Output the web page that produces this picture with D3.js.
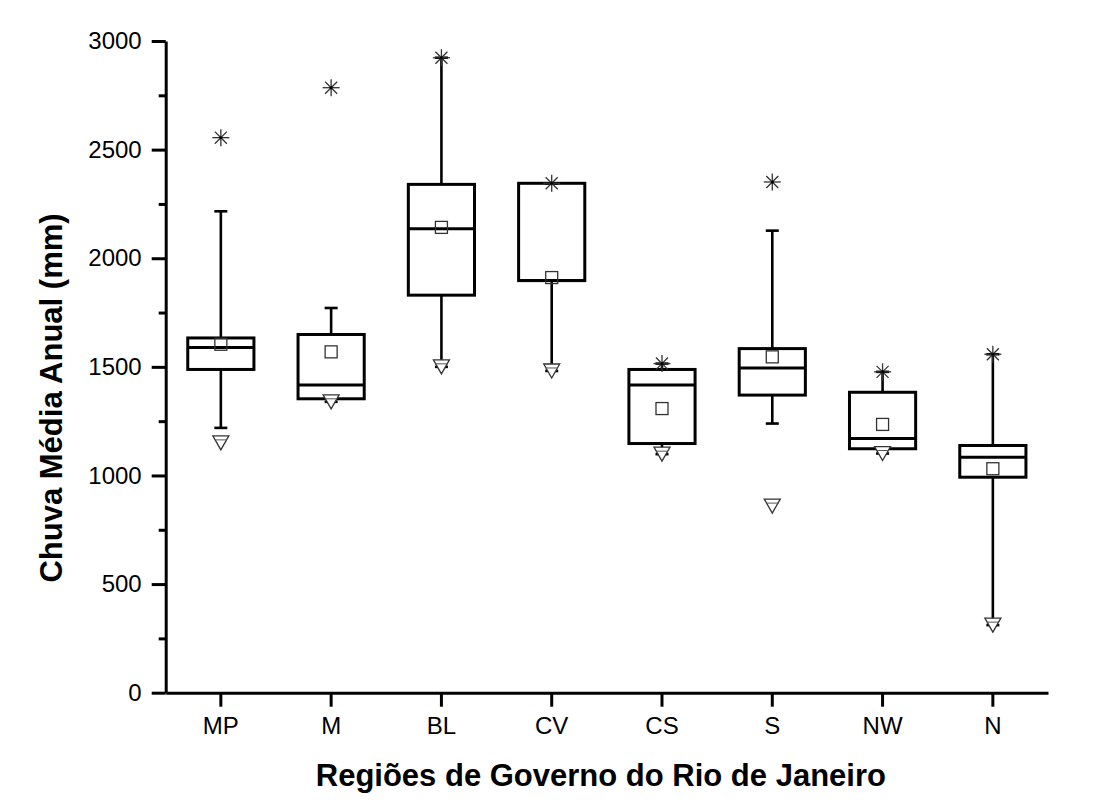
<!DOCTYPE html>
<html>
<head>
<meta charset="utf-8">
<script src="https://cdn.jsdelivr.net/npm/d3@7"></script>
<style>
	body { margin: 0; background: #fff; }
	svg { display: block; font-family: "Liberation Sans", Arial, sans-serif; }
	.axis path, .axis line { stroke: #000; stroke-width: 3; }
	.axis text { font-size: 24px; fill: #000; }
</style>
</head>
<body>
<svg id="chart" width="1096" height="809"></svg>
<script>
// data
var regions = ["MP", "M", "BL", "CV", "CS", "S", "NW", "N"];
var q1 =          [1488, 1353, 1830, 1897, 1147, 1370, 1123,  992];
var median =      [1589, 1416, 2136, 1897, 1416, 1495, 1170, 1084];
var q3 =          [1633, 1649, 2340, 2345, 1488, 1584, 1383, 1138];
var mean =        [1604, 1569, 2142, 1911, 1308, 1546, 1235, 1031];
var whiskerLow =  [1219, 1339, 1500, 1481, 1098, 1239, 1101,  311];
var whiskerHigh = [2216, 1771, 2923, 2345, 1515, 2127, 1477, 1558];
var minVal =      [1150, 1339, 1500, 1481, 1098,  859, 1101,  311];
var maxVal =      [2555, 2785, 2923, 2345, 1515, 2351, 1477, 1558];
var yTicks = [0, 500, 1000, 1500, 2000, 2500, 3000];
var yMinorTicks = [250, 750, 1250, 1750, 2250, 2750];

var margin = {top: 41, left: 165.7},
	width = 882.3,
	height = 651.7;

var svg = d3.select("#chart");
var g = svg.append("g").attr("transform", "translate(" + margin.left + "," + margin.top + ")");

var x = d3.scaleBand().domain(regions).range([0, width]);
var y = d3.scaleLinear().domain([0, 3000]).range([height, 0]);

var boxW = x.bandwidth() * 0.6,
	capW = 13;

// minor ticks first so the main axis line sits on top
g.append("g").attr("class", "axis")
	.call(d3.axisLeft(y).tickValues(yMinorTicks).tickSize(7).tickFormat(""))
	.select(".domain").remove();

g.append("g").attr("class", "axis")
	.call(d3.axisLeft(y).tickValues(yTicks).tickFormat(d3.format("d"))
		.tickSizeInner(14).tickSizeOuter(0).tickPadding(10));

g.append("g").attr("class", "axis")
	.attr("transform", "translate(0," + height + ")")
	.call(d3.axisBottom(x).tickSizeInner(14).tickSizeOuter(0).tickPadding(10));

var data = regions.map(function(r, i) {
	return {r: r, q1: q1[i], med: median[i], q3: q3[i], mean: mean[i],
		lo: whiskerLow[i], hi: whiskerHigh[i], min: minVal[i], max: maxVal[i]};
});

var box = g.selectAll("g.box").data(data).enter()
	.append("g").attr("class", "box")
	.attr("transform", function(d) { return "translate(" + (x(d.r) + x.bandwidth() / 2) + ",0)"; });

// whiskers
box.append("line")
	.attr("x1", 0).attr("x2", 0)
	.attr("y1", function(d) { return y(d.q3); })
	.attr("y2", function(d) { return y(d.hi); })
	.attr("stroke", "#000").attr("stroke-width", 2.6);
box.append("line")
	.attr("x1", 0).attr("x2", 0)
	.attr("y1", function(d) { return y(d.q1); })
	.attr("y2", function(d) { return y(d.lo); })
	.attr("stroke", "#000").attr("stroke-width", 2.6);
box.append("line")
	.attr("x1", -capW / 2).attr("x2", capW / 2)
	.attr("y1", function(d) { return y(d.hi); })
	.attr("y2", function(d) { return y(d.hi); })
	.attr("stroke", "#000").attr("stroke-width", 2.6);
box.append("line")
	.attr("x1", -capW / 2).attr("x2", capW / 2)
	.attr("y1", function(d) { return y(d.lo); })
	.attr("y2", function(d) { return y(d.lo); })
	.attr("stroke", "#000").attr("stroke-width", 2.6);

// box and median
box.append("rect")
	.attr("x", -boxW / 2).attr("width", boxW)
	.attr("y", function(d) { return y(d.q3); })
	.attr("height", function(d) { return y(d.q1) - y(d.q3); })
	.attr("fill", "none").attr("stroke", "#000").attr("stroke-width", 3);
box.append("line")
	.attr("x1", -boxW / 2).attr("x2", boxW / 2)
	.attr("y1", function(d) { return y(d.med); })
	.attr("y2", function(d) { return y(d.med); })
	.attr("stroke", "#000").attr("stroke-width", 3);

// mean square
box.append("rect")
	.attr("x", -6).attr("width", 12).attr("height", 12)
	.attr("y", function(d) { return y(d.mean) - 6; })
	.attr("fill", "none").attr("stroke", "#333").attr("stroke-width", 1.3);

// min marker (down triangle)
var tri = box.append("g")
	.attr("transform", function(d) { return "translate(0," + y(d.min) + ")"; });
tri.append("path")
	.attr("d", "M-8,-7L8,-7L0,7Z")
	.attr("fill", "#fff").attr("stroke", "#333").attr("stroke-width", 1.3);
tri.append("line")
	.attr("x1", -6).attr("x2", 6).attr("y1", -3).attr("y2", -3)
	.attr("stroke", "#555").attr("stroke-width", 1);

// max marker (asterisk)
var star = box.append("g")
	.attr("transform", function(d) { return "translate(0," + y(d.max) + ")"; });
[0, 45, 90, 135].forEach(function(a) {
	star.append("line")
		.attr("x1", 0).attr("y1", -8.5).attr("x2", 0).attr("y2", 8.5)
		.attr("transform", "rotate(" + a + ")")
		.attr("stroke", "#333").attr("stroke-width", 1.3);
});
star.append("circle").attr("r", 1.5).attr("fill", "#000");

// axis titles
svg.append("text")
	.attr("x", margin.left + width / 2 - 6)
	.attr("y", 786)
	.attr("text-anchor", "middle")
	.style("font-size", "31px").style("font-weight", "bold")
	.text("Regiões de Governo do Rio de Janeiro");

svg.append("text")
	.attr("transform", "translate(62,398) rotate(-90)")
	.attr("text-anchor", "middle")
	.style("font-size", "31px").style("font-weight", "bold")
	.text("Chuva Média Anual (mm)");
</script>
</body>
</html>
